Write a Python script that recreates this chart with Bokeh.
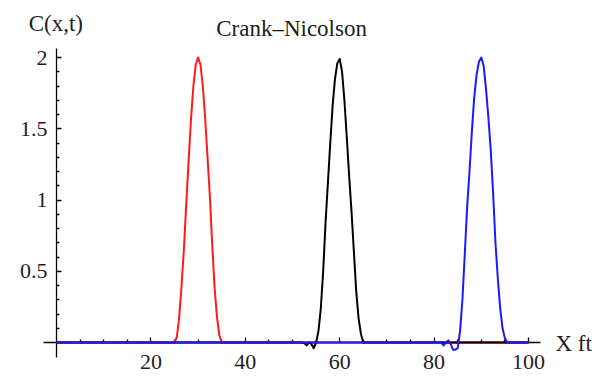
from bokeh.plotting import figure
from bokeh.models import Range1d, LinearAxis, FixedTicker, NumeralTickFormatter, Label
from bokeh.embed import file_html
from bokeh.resources import INLINE

title_text = "Crank–Nicolson"
y_label = "C(x,t)"
x_label = "X ft"

x_major = [20, 40, 60, 80, 100]
x_minor = [5, 10, 15, 25, 30, 35, 45, 50, 55, 65, 70, 75, 85, 90, 95]
y_major = [0.5, 1, 1.5, 2]
y_minor = [0.1, 0.2, 0.3, 0.4, 0.6, 0.7, 0.8, 0.9, 1.1, 1.2, 1.3, 1.4, 1.6, 1.7, 1.8, 1.9]

red_x = [0, 24, 25, 25.5, 26, 26.5, 27, 27.5, 28, 28.5, 29, 29.5, 30, 30.5, 31, 31.5, 32, 32.5, 33, 33.5, 34, 34.5, 35, 36, 100]
red_c = [0, 0, 0, 0.04, 0.18, 0.40, 0.66, 0.98, 1.28, 1.57, 1.80, 1.95, 2.0, 1.95, 1.80, 1.57, 1.30, 1.02, 0.68, 0.38, 0.18, 0.05, 0, 0, 0]

black_x = [0, 52, 52.5, 53, 53.5, 54, 54.5, 55, 55.5, 56, 56.5, 57, 57.5, 58, 58.5, 59, 59.5, 60, 60.5, 61, 61.5, 62, 62.5, 63, 63.5, 64, 64.5, 65, 66, 100]
black_c = [0, 0, -0.005, -0.02, 0.0, -0.01, -0.04, 0.0, 0.08, 0.24, 0.50, 0.84, 1.12, 1.40, 1.66, 1.85, 1.96, 1.99, 1.90, 1.70, 1.44, 1.17, 0.92, 0.64, 0.36, 0.17, 0.06, 0.0, 0, 0]

blue_x = [0, 81.5, 82, 82.5, 83, 83.5, 84, 84.5, 85, 85.5, 86, 86.5, 87, 87.5, 88, 88.5, 89, 89.5, 90, 90.5, 91, 91.5, 92, 92.5, 93, 93.5, 94, 94.5, 95, 95.5, 100]
blue_c = [0, 0, -0.02, 0.0, 0.015, -0.01, -0.05, -0.05, -0.04, 0.08, 0.30, 0.62, 0.95, 1.20, 1.48, 1.72, 1.88, 1.97, 2.0, 1.94, 1.78, 1.58, 1.35, 1.05, 0.70, 0.45, 0.24, 0.10, 0.03, 0.0, 0]

FONT = "Liberation Serif"
TXT = "#1e1e1e"

p = figure(width=605, height=379, output_backend="svg", toolbar_location=None,
           x_range=Range1d(-11.864, 116.314), y_range=Range1d(-0.2596, 2.4),
           x_axis_type=None, y_axis_type=None, min_border=0)
p.outline_line_color = None
p.background_fill_color = "white"
p.border_fill_color = "white"

xa = LinearAxis(fixed_location=0, bounds=(-2.75, 102.5),
                ticker=FixedTicker(ticks=x_major, minor_ticks=x_minor))
ya = LinearAxis(fixed_location=0, bounds=(-0.105, 2.063),
                ticker=FixedTicker(ticks=y_major, minor_ticks=y_minor),
                formatter=NumeralTickFormatter(format="0.[0]"))
for ax in (xa, ya):
    ax.axis_line_color = "black"
    ax.axis_line_width = 1.3
    ax.major_tick_in = 5
    ax.major_tick_out = 0
    ax.minor_tick_in = 3
    ax.minor_tick_out = 0
    ax.major_tick_line_color = "black"
    ax.minor_tick_line_color = "black"
    ax.major_tick_line_width = 1.3
    ax.minor_tick_line_width = 1.3
    ax.major_label_text_font = FONT
    ax.major_label_text_font_size = "22px"
    ax.major_label_text_color = TXT
xa.major_label_standoff = 12
ya.major_label_standoff = 9
p.add_layout(xa, "below")
p.add_layout(ya, "left")

for xs, cs, col in ((red_x, red_c, "#ff1a1a"), (black_x, black_c, "black"), (blue_x, blue_c, "#1a1aff")):
    r = p.line(xs, cs, line_color=col, line_width=2, line_join="round")
    r.level = "overlay"

p.add_layout(Label(x=49.8, y=2.204, text=title_text, text_align="center", text_baseline="middle",
                   text_font=FONT, text_font_size="23px", text_color=TXT))
p.add_layout(Label(x=-5.9, y=2.239, text=y_label, text_align="left", text_baseline="middle",
                   text_font=FONT, text_font_size="23px", text_color=TXT))
p.add_layout(Label(x=105.7, y=-0.007, text=x_label, text_align="left", text_baseline="middle",
                   text_font=FONT, text_font_size="23px", text_color=TXT))

open("out.html", "w").write(file_html(p, INLINE))
